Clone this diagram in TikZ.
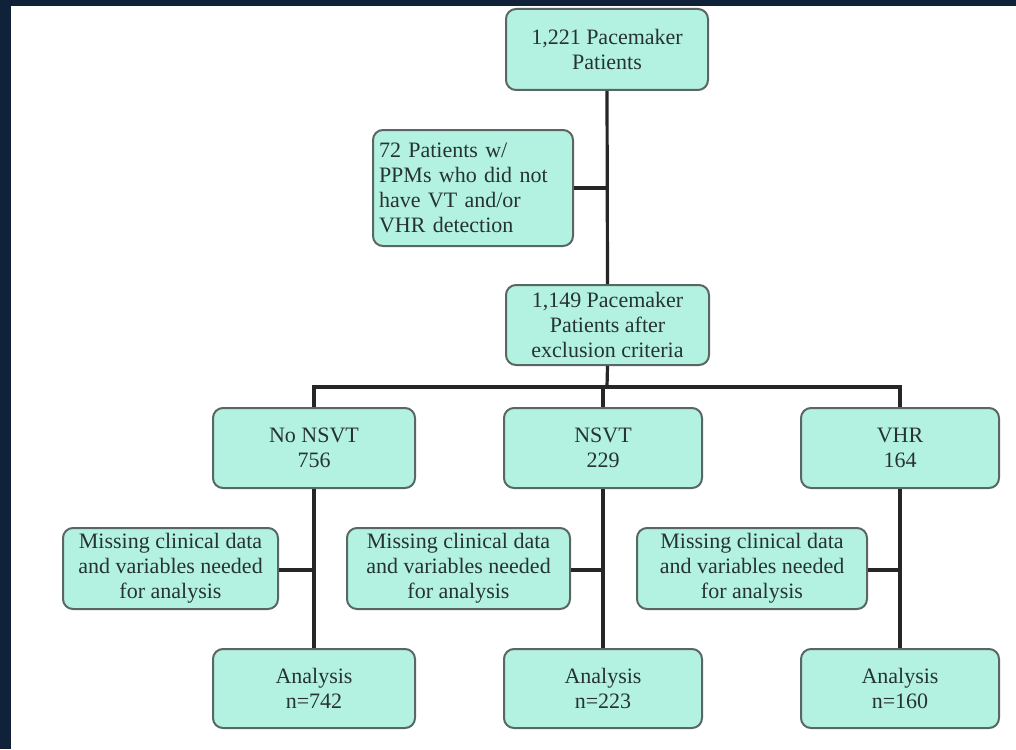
\documentclass[tikz,border=0pt]{standalone}
\usepackage{fontspec}
\setmainfont{Liberation Serif}
\definecolor{navy}{HTML}{10213A}
\definecolor{mint}{HTML}{B3F2E0}
\definecolor{boxline}{HTML}{5A6663}
\definecolor{txt}{HTML}{263330}
\begin{document}
\begin{tikzpicture}[x=1pt,y=-1pt,
  box/.style={draw=boxline, line width=2pt, fill=mint, rounded corners=10pt,
    inner sep=0pt, align=center, text=txt,
    font=\fontsize{22}{25}\selectfont},
  link/.style={draw=black!85, line width=3.2pt}]
\useasboundingbox (0,0) rectangle (1016,749);
\fill[white] (0,0) rectangle (1016,749);
\fill[navy] (0,0) rectangle (1016,6.5);
\fill[navy] (0,0) rectangle (11,749);
% nodes
\node[box, minimum width=202pt, minimum height=81pt] (top) at (607,49.5) {1,221 Pacemaker\\Patients};
\node[box, minimum width=200pt, minimum height=116pt, align=left, text width=188pt] (excl) at (473,188) {72 Patients w/\\PPMs who did not\\have VT and/or\\VHR detection};
\node[box, minimum width=203pt, minimum height=80pt] (after) at (607.5,325) {1,149 Pacemaker\\Patients after\\exclusion criteria};
\node[box, minimum width=202pt, minimum height=80pt] (nonsvt) at (314,448) {No NSVT\\756};
\node[box, minimum width=198pt, minimum height=80pt] (nsvt) at (603,448) {NSVT\\229};
\node[box, minimum width=198pt, minimum height=80pt] (vhr) at (900,448) {VHR\\164};
\node[box, minimum width=215pt, minimum height=81pt] (m1) at (170.5,568.5) {Missing clinical data\\and variables needed\\for analysis};
\node[box, minimum width=223pt, minimum height=81pt] (m2) at (458.5,568.5) {Missing clinical data\\and variables needed\\for analysis};
\node[box, minimum width=230pt, minimum height=81pt] (m3) at (752,568.5) {Missing clinical data\\and variables needed\\for analysis};
\node[box, minimum width=202pt, minimum height=79pt] (a1) at (314,688.5) {Analysis\\n=742};
\node[box, minimum width=198pt, minimum height=79pt] (a2) at (603,688.5) {Analysis\\n=223};
\node[box, minimum width=198pt, minimum height=79pt] (a3) at (900,688.5) {Analysis\\n=160};
% coordinates
\coordinate (j1) at (607,188);
\coordinate (bus) at (607,387);
\coordinate (busL) at (314,387);
\coordinate (busM) at (603,387);
\coordinate (busR) at (900,387);
\coordinate (j2) at (314,570);
\coordinate (j3) at (603,570);
\coordinate (j4) at (900,570);
% connectors
\draw[link] (top.south) -- (after.north);
\draw[link] (excl.east) -- (j1);
\draw[link] (after.south) -- (bus);
\draw[link, line cap=rect] (busL) -- (busR);
\draw[link] (busL) -- (nonsvt.north);
\draw[link] (busM) -- (nsvt.north);
\draw[link] (busR) -- (vhr.north);
\draw[link] (nonsvt.south) -- (a1.north);
\draw[link] (nsvt.south) -- (a2.north);
\draw[link] (vhr.south) -- (a3.north);
\draw[link] (m1.east |- j2) -- (j2);
\draw[link] (m2.east |- j3) -- (j3);
\draw[link] (m3.east |- j4) -- (j4);
\end{tikzpicture}
\end{document}
